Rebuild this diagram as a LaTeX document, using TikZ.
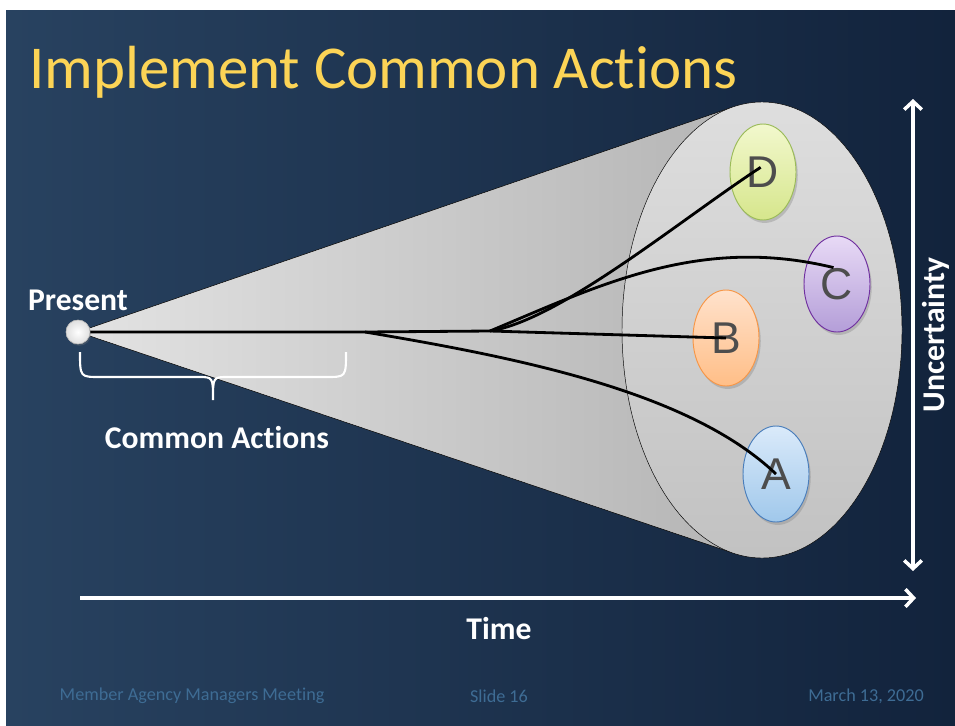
\documentclass[tikz,border=0pt]{standalone}
\usepackage{fontspec}
\setmainfont{Carlito}[Ligatures=NoCommon]
\newfontfamily\arialfont{Liberation Sans}
\usetikzlibrary{shapes.geometric,shadows,arrows.meta}

\definecolor{slidedark}{RGB}{18,35,60}
\definecolor{slidelight}{RGB}{40,66,96}
\definecolor{titlegold}{RGB}{252,212,86}
\definecolor{footblue}{RGB}{62,108,148}
\definecolor{lettergray}{RGB}{77,77,77}
\definecolor{dtop}{RGB}{242,248,205}
\definecolor{dbot}{RGB}{214,230,140}
\definecolor{dline}{RGB}{155,187,89}
\definecolor{ctop}{RGB}{232,218,246}
\definecolor{cbot}{RGB}{180,158,216}
\definecolor{cline}{RGB}{112,48,160}
\definecolor{btop}{RGB}{255,226,204}
\definecolor{bbot}{RGB}{255,190,135}
\definecolor{bline}{RGB}{247,150,70}
\definecolor{atop}{RGB}{218,234,250}
\definecolor{abot}{RGB}{160,200,235}
\definecolor{aline}{RGB}{74,126,187}

\tikzset{
  outcome/.style={ellipse, draw, line width=0.8pt, minimum width=1.98cm,
    minimum height=2.88cm, inner sep=0pt, text=lettergray,
    font=\arialfont\fontsize{38}{38}\selectfont,
    drop shadow={opacity=0.35,shadow xshift=1.5pt,shadow yshift=-2.5pt}},
  track/.style={black, line width=2.4pt},
  whitetext/.style={text=white, font=\bfseries\fontsize{27}{30}\selectfont},
  foottext/.style={text=footblue, font=\fontsize{15.5}{18}\selectfont},
  axis/.style={white, line width=3pt},
  dot/.style={circle, minimum size=0.72cm, inner sep=0pt, draw=gray!60,
    inner color=white, outer color=gray!25},
}

\begin{document}
\begin{tikzpicture}[x=0.03cm,y=-0.03cm,>={Straight Barb[length=7pt,width=15pt]}]
                %% slide
                \useasboundingbox (0,0) rectangle (955,725);
                \fill[white] (0,0) rectangle (955,725);
                \fill[left color=slidelight, right color=slidedark] (6,10) rectangle (955,725);

                %title
                \node[anchor=base west, text=titlegold, font=\fontsize{52}{56}\selectfont] (title) at (25,88) {Implement Common Actions};

                %% cone
                \coordinate (apex) at (78,332);
                \coordinate (rimtop) at (733,107);
                \coordinate (rimbot) at (733,553);
                \fill[left color=gray!22, right color=gray!58] (apex) -- (rimtop) -- (rimbot) -- cycle;
                \draw[black, thin] (apex) -- (rimtop);
                \draw[black, thin] (apex) -- (rimbot);
                \draw[black, thin, top color=gray!26, bottom color=gray!48] (762,330) ellipse [x radius=4.2cm, y radius=6.84cm];

                %% futures
                \node[outcome, draw=dline, top color=dtop, bottom color=dbot] (D) at (763,172) {D};
                \node[outcome, draw=cline, top color=ctop, bottom color=cbot] (C) at (837,284) {C};
                \node[outcome, draw=bline, top color=btop, bottom color=bbot] (B) at (726,338) {B};
                \node[outcome, draw=aline, top color=atop, bottom color=abot] (A) at (776,474) {A};

                %paths
                \coordinate (fork1) at (365,332);
                \coordinate (fork2) at (490,331);
                \node[dot] (present) at (apex) {};
                \draw[track] (present) -- (fork1) -- (fork2) -- (B.center);
                \draw[track] (fork1) .. controls (520,358) and (690,392) .. (A.center);
                \draw[track] (fork2) .. controls (560,320) and (680,220) .. ([xshift=-2pt,yshift=4pt]D.center);
                \draw[track] (fork2) .. controls (600,285) and (700,235) .. ([xshift=-3pt,yshift=14pt]C.center);
                \node[dot, drop shadow={opacity=0.3,shadow xshift=1pt,shadow yshift=-1.5pt}] at (apex) {};

                %present
                \node[whitetext] (presentlabel) at (78,300) {Present};
                \coordinate (braceL) at (80,352);
                \coordinate (braceR) at (346,352);
                \coordinate (bracetip) at (213,400);
                \draw[white, line width=1.8pt] (braceL) .. controls (80,377) .. (100,377) -- (198,377)
                      .. controls (213,377) .. (bracetip) .. controls (213,377) .. (228,377) -- (326,377)
                      .. controls (346,377) .. (braceR);
                \node[whitetext] (common) at (217,438) {Common Actions};

                %% axes
                \coordinate (t0) at (80,598);
                \coordinate (t1) at (916,598);
                \draw[axis, ->] (t0) -- (t1);
                \node[whitetext] (time) at (499,629) {Time};

                \coordinate (u0) at (913,571);
                \coordinate (u1) at (913,99);
                \draw[axis, <->] (u0) -- (u1);
                \node[whitetext, rotate=90] (uncert) at (936,335) {Uncertainty};

                %footer
                \node[foottext] (meeting) at (192,696) {Member Agency Managers Meeting};
                \node[foottext] (slide) at (499,696) {Slide 16};
                \node[foottext] (date) at (866,696) {March 13, 2020};

            \end{tikzpicture}
\end{document}
